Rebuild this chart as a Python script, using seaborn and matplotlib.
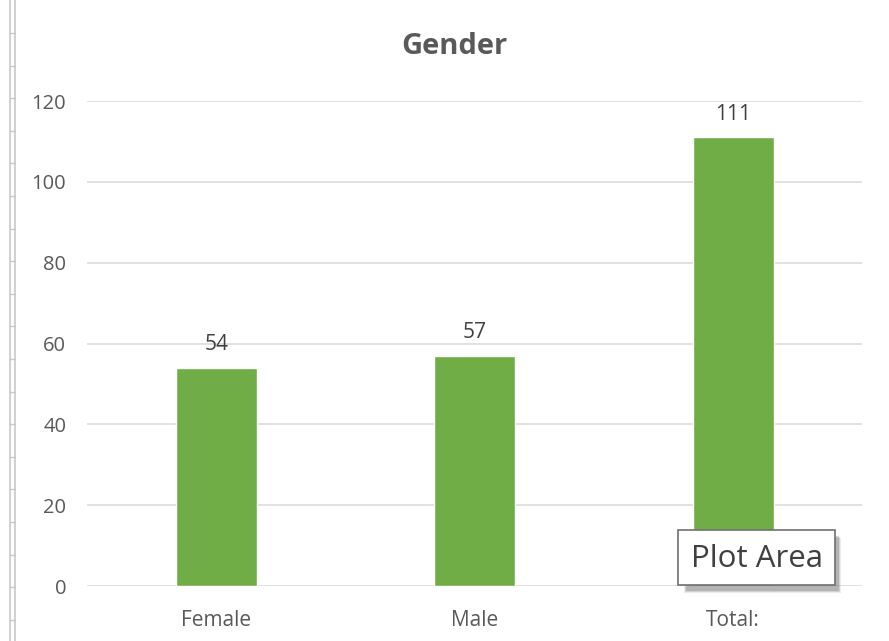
import matplotlib
matplotlib.use('Agg')
import matplotlib.pyplot as plt
import seaborn as sns
import pandas as pd
from matplotlib.lines import Line2D
from matplotlib.patches import Rectangle

# chart data
categories = ['Female', 'Male', 'Total:']
counts = [54, 57, 111]
yticks = [0, 20, 40, 60, 80, 100, 120]

df = pd.DataFrame({'Gender': categories, 'Count': counts})

sns.set_style('white')
plt.rcParams['font.family'] = ['Open Sans', 'DejaVu Sans']

fig = plt.figure(figsize=(8.89, 6.41), dpi=100)
ax = fig.add_axes([0.098, 0.0858, 0.872, 0.7566])

sns.barplot(data=df, x='Gender', y='Count', color='#70AD47', width=0.314,
            saturation=1, ax=ax, zorder=3)

ax.set_ylim(0, 120)
ax.set_yticks(yticks)
ax.grid(axis='y', color='#D9D9D9', linewidth=1.1, zorder=0)
ax.set_axisbelow(True)
for s in ax.spines.values():
    s.set_visible(False)
ax.tick_params(axis='both', length=0, labelcolor='#595959')
ax.tick_params(axis='y', pad=15, labelsize=14.5)
ax.tick_params(axis='x', pad=17, labelsize=15)
ax.set_xlabel('')
ax.set_ylabel('')

# data labels
for i, v in enumerate(counts):
    ax.annotate(str(v), (i, v), xytext=(0, 9), textcoords='offset points',
                ha='center', va='bottom', fontsize=15, color='#404040')

fig.text(0.511, 0.927, 'Gender', ha='center', va='center', fontsize=21,
         fontweight='bold', color='#595959')

# window ruler at left edge
for x in (9.5, 14.5):
    fig.add_artist(Line2D([x / 889, x / 889], [0, 1], color='#C8C8C8', lw=1.2))
y = 33
while y < 641:
    fig.add_artist(Line2D([9.5 / 889, 14.5 / 889], [1 - y / 641, 1 - y / 641],
                          color='#C8C8C8', lw=1))
    y += 32.6

# "Plot Area" tooltip with soft shadow
for k, a in enumerate([0.12, 0.18, 0.25]):
    fig.add_artist(Rectangle(((684 + k) / 889, 1 - (593 - k) / 641),
                             (157 - 2 * k) / 889, 55 / 641,
                             facecolor='#606060', edgecolor='none', alpha=a))
fig.add_artist(Rectangle((678 / 889, 1 - 585 / 641), 157 / 889, 55 / 641,
                         facecolor='white', edgecolor='#707070', lw=1.2))
fig.text(757 / 889, 1 - 559 / 641, 'Plot Area', ha='center', va='center',
         fontsize=22.5, color='#404040')

fig.savefig('out.png', dpi=100, facecolor='white')
